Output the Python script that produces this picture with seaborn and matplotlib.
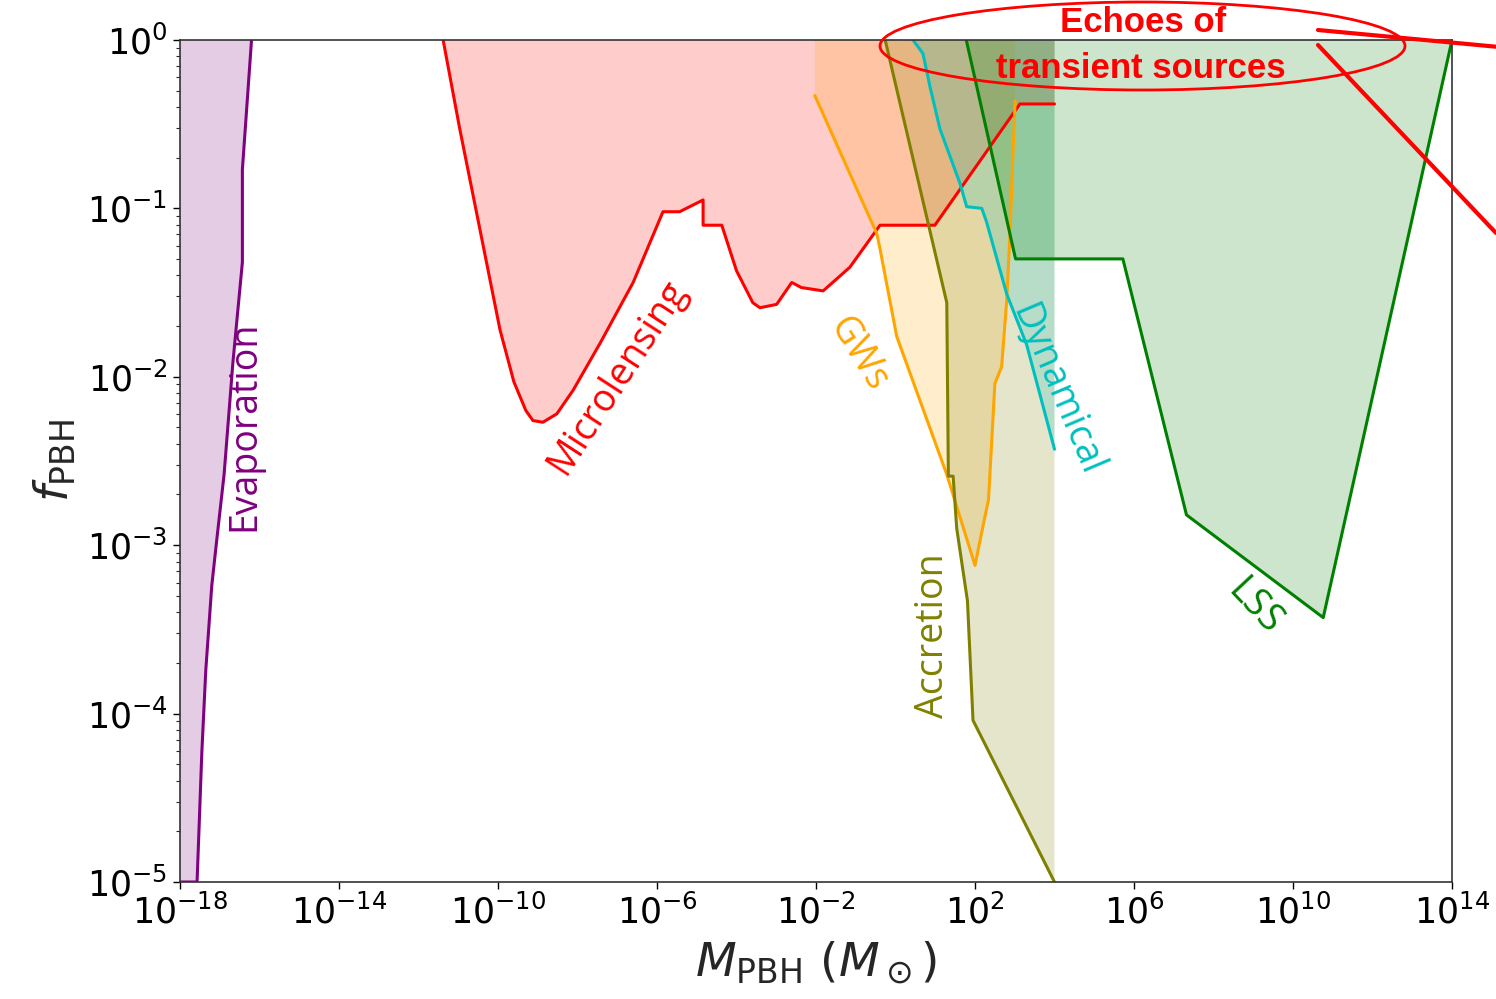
import numpy as np
import pandas as pd
import matplotlib
matplotlib.use("Agg")
import matplotlib.pyplot as plt
import seaborn as sns
from matplotlib.patches import Ellipse
from matplotlib.lines import Line2D
from matplotlib.ticker import NullLocator

# ---------------- data (log10 values) ----------------
evap_logm = [-16.20, -16.43, -16.43, -16.67, -16.89, -17.08, -17.20, -17.35, -17.45, -17.57, -18.0]
evap_logf = [0.0, -0.77, -1.32, -1.92, -2.58, -2.98, -3.24, -3.74, -4.23, -5.0, -5.0]

micro_logm = [-11.38, -10.96, -10.45, -9.95, -9.60, -9.30, -9.12, -8.87, -8.52, -8.11, -7.43,
              -6.60, -5.85, -5.43, -4.84, -4.84, -4.37, -4.00, -3.59, -3.41, -2.99,
              -2.61, -2.37, -1.82, -1.15, -0.39, 0.99, 3.13, 4.0]
micro_logf = [0.0, -0.53, -1.13, -1.72, -2.03, -2.20, -2.26, -2.27, -2.22, -2.08, -1.80,
              -1.44, -1.02, -1.02, -0.95, -1.10, -1.10, -1.37, -1.56, -1.59, -1.57,
              -1.44, -1.47, -1.49, -1.35, -1.10, -1.10, -0.38, -0.38]

gw_logm = [-2.03, -0.47, -0.39, 0.03, 1.29, 2.00, 2.25, 2.34, 2.50, 2.67, 2.80, 2.88, 2.96, 3.01]
gw_logf = [-0.33, -1.15, -1.24, -1.76, -2.58, -3.12, -2.83, -2.73, -2.04, -1.94, -1.54, -1.15, -0.65, -0.36]

acc_logm = [-0.26, 1.29, 1.33, 1.45, 1.54, 1.81, 1.95, 4.0]
acc_logf = [0.0, -1.56, -2.59, -2.59, -2.90, -3.33, -4.04, -5.0]

dyn_logm = [0.44, 0.69, 0.87, 1.12, 1.62, 1.79, 2.17, 2.29, 2.80, 3.30, 4.0]
dyn_logf = [0.0, -0.08, -0.28, -0.53, -0.85, -0.99, -1.00, -1.08, -1.51, -1.81, -2.43]

lss_logm = [1.78, 3.02, 5.72, 7.32, 10.76, 14.0]
lss_logf = [0.0, -1.30, -1.30, -2.82, -3.43, 0.0]

# closing corners for each shaded region (appended to the curve)
evap_close = ([-18.0], [0.0])
micro_close = ([4.0], [0.0])
gw_close = ([3.01, -2.03], [0.0, 0.0])
acc_close = ([4.0], [0.0])
dyn_close = ([4.0], [0.0])
lss_close = ([], [])

x_ticks = [-18, -14, -10, -6, -2, 2, 6, 10, 14]

# ---------------- style ----------------
sns.set_theme(style="ticks")
plt.rcParams["font.family"] = ["DejaVu Sans"]
plt.rcParams["mathtext.fontset"] = "dejavusans"

fig = plt.figure(figsize=(14.96, 9.99), dpi=100)
ax = fig.add_axes([0.1203, 0.1171, 0.8503, 0.8429])
ax.set_xscale("log")
ax.set_yscale("log")

PURPLE, RED, ORANGE = "#800080", "#ff0000", "#ffa500"
OLIVE, CYAN, GREEN = "#808000", "#00bfbf", "#008000"

constraints = [
    ("Evaporation", evap_logm, evap_logf, evap_close, PURPLE),
    ("Microlensing", micro_logm, micro_logf, micro_close, RED),
    ("GWs", gw_logm, gw_logf, gw_close, ORANGE),
    ("Accretion", acc_logm, acc_logf, acc_close, OLIVE),
    ("Dynamical", dyn_logm, dyn_logf, dyn_close, CYAN),
    ("LSS", lss_logm, lss_logf, lss_close, GREEN),
]

for name, lm, lf, close, col in constraints:
    xs = 10.0 ** np.array(list(lm) + close[0])
    ys = 10.0 ** np.array(list(lf) + close[1])
    ax.fill(xs, ys, color=col, alpha=0.2, lw=0)
    df = pd.DataFrame({"M": 10.0 ** np.array(lm), "f": 10.0 ** np.array(lf)})
    sns.lineplot(data=df, x="M", y="f", sort=False, estimator=None,
                 color=col, lw=2.2, ax=ax)

ax.set_xlim(1e-18, 1e14)
ax.set_ylim(1e-5, 1)
ax.set_xticks([10.0 ** e for e in x_ticks])
ax.xaxis.set_minor_locator(NullLocator())
ax.tick_params(axis="both", which="major", labelsize=25, length=5, width=1, pad=4,
               colors="black")
ax.tick_params(axis="y", which="minor", length=3, width=0.8)
for s in ax.spines.values():
    s.set_color("#333333")
    s.set_linewidth(1.2)

ax.set_xlabel(r"$M_{\rm PBH}\ (M_\odot)$", fontsize=34, labelpad=6)
ax.set_ylabel(r"$f_{\rm PBH}$", fontsize=34, labelpad=6)

# region labels
lab_font = ["Open Sans", "DejaVu Sans"]
labels = [
    ("Evaporation", -16.37, -2.29, 90, PURPLE),
    ("Microlensing", -7.0, -2.0, 57, RED),
    ("GWs", -0.94, -1.87, -58, ORANGE),
    ("Dynamical", 4.05, -2.08, -67, CYAN),
    ("Accretion", 0.94, -3.54, 90, OLIVE),
    ("LSS", 9.04, -3.37, -47, GREEN),
]
for txt, lx, ly, rot, col in labels:
    ax.text(10.0 ** lx, 10.0 ** ly, txt, rotation=rot, color=col, fontsize=27,
            family=lab_font, ha="center", va="center", rotation_mode="anchor")

# annotation on top
W, H = 1496.0, 999.0
fig.add_artist(Ellipse((1142.5 / W, 1 - 46 / H), 525 / W, 88 / H,
                       transform=fig.transFigure, fill=False, ec="red", lw=2))
fig.text(1143 / W, 1 - 22 / H, "Echoes of", color="red", fontsize=25,
         fontweight="bold", family="Liberation Sans", ha="center", va="center")
fig.text(1141 / W, 1 - 68 / H, "transient sources", color="red", fontsize=25,
         fontweight="bold", family="Liberation Sans", ha="center", va="center")
fig.add_artist(Line2D([1318 / W, 1.0], [1 - 30 / H, 1 - 46.7 / H],
                      transform=fig.transFigure, color="red", lw=3))
fig.add_artist(Line2D([1318 / W, 1.0], [1 - 45 / H, 1 - 233 / H],
                      transform=fig.transFigure, color="red", lw=3))

fig.savefig("out.png", dpi=100)
